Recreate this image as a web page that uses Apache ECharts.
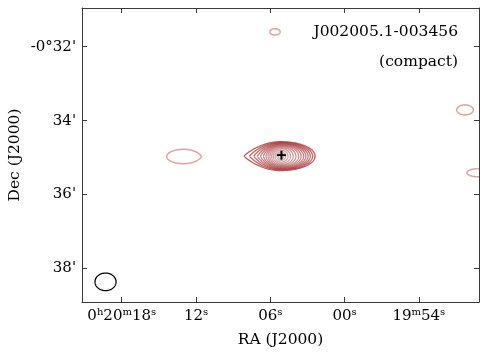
<!DOCTYPE html>
<html><head><meta charset="utf-8">
<script src="https://cdn.jsdelivr.net/npm/echarts@6/dist/echarts.min.js"></script>
<style>html,body{margin:0;padding:0;background:#fff}#c{width:487px;height:354px}</style>
</head><body><div id="c"></div>
<script>
// RA in seconds relative to 0h20m00s ; Dec in arcmin (negative = south)
const raTickValues = [18, 12, 6, 0, -6];
const raTickLabels = ['{n|0}{s|h}{n|20}{s|m}{n|18}{s|s}', '{n|12}{s|s}', '{n|06}{s|s}', '{n|00}{s|s}', '{n|19}{s|m}{n|54}{s|s}'];
const decTickValues = [-32, -34, -36, -38];
const decTickLabels = ["-0°32'", "34'", "36'", "38'"];
const raRange = [-10.86, 21.21];
const decRange = [-38.905, -30.954];

// main source contour levels (outer -> inner)
const mainCenter = [5.13, -34.96];
const mainEastHalf = [2.99, 2.55, 2.20, 1.90, 1.65, 1.42, 1.22, 1.05, 0.90, 0.76, 0.62, 0.48, 0.34, 0.22];
const mainWestHalf = [2.75, 2.55, 2.36, 2.18, 2.00, 1.82, 1.62, 1.42, 1.20, 0.98, 0.76, 0.56, 0.38, 0.22];
const mainDecHalf  = [0.39, 0.375, 0.360, 0.346, 0.332, 0.317, 0.300, 0.282, 0.260, 0.234, 0.202, 0.162, 0.117, 0.072];
const mainPointed  = [1, 1, 0.9, 0.8, 0.7, 0.5, 0.3, 0.1, 0, 0, 0, 0, 0, 0];

// other isolated contours
const otherRa      = [5.62, 12.97, -9.73, -10.78];
const otherDec     = [-31.60, -34.97, -33.71, -35.41];
const otherEast    = [0.42, 1.40, 0.67, 0.89];
const otherWest    = [0.42, 1.40, 0.67, 0.89];
const otherDecHalf = [0.085, 0.195, 0.135, 0.11];
const otherPointW  = [0, 0.5, 0, 0];

// beam
const beamCenter = [19.31, -38.36];
const beamHalf = [0.85, 0.238];

// source position J002005.1-003456
const srcPos = [5.1, -34.933];
const srcName = 'J002005.1-003456';
const srcType = '(compact)';

const FONT = 'DejaVu Serif';

function shapePoints(api, ra, dec, east, west, half, pE, pW) {
  const pts = [];
  const N = 160;
  for (let i = 0; i <= N; i++) {
    const t = i / N * Math.PI * 2;
    const u = Math.cos(t), s = Math.sin(t);
    const eastSide = u >= 0;
    const a = eastSide ? east : west;
    const p = eastSide ? pE : pW;
    const mag = Math.pow(Math.abs(s), 1 + 0.8 * p);
    const dy = half * Math.sign(s) * mag;
    pts.push(api.coord([ra + a * u, dec + dy]));
  }
  return pts;
}

const mainData = mainEastHalf.map((e, i) => [mainCenter[0], mainCenter[1], e, mainWestHalf[i], mainDecHalf[i], mainPointed[i], 0, i]);
const otherData = otherRa.map((r, i) => [r, otherDec[i], otherEast[i], otherWest[i], otherDecHalf[i], 0, otherPointW[i], 0]);

function contourRender(color, width) {
  return function (params, api) {
    const pts = shapePoints(api, api.value(0), api.value(1), api.value(2), api.value(3), api.value(4), api.value(5), api.value(6));
    return { type: 'polyline', shape: { points: pts }, style: { stroke: color, lineWidth: width, fill: null } };
  };
}

const axisColor = '#3a3a3a';
const chart = echarts.init(document.getElementById('c'), null, { renderer: 'canvas' });
chart.setOption({
  animation: false,
  backgroundColor: '#fff',
  textStyle: { fontFamily: FONT },
  grid: { left: 82, right: 8, top: 8, bottom: 52, containLabel: false, outerBoundsMode: 'none' },
  xAxis: [{
    type: 'value', min: raRange[0], max: raRange[1], inverse: true, position: 'bottom',
    axisLine: { show: true, onZero: false, lineStyle: { color: axisColor, width: 1 } },
    axisTick: { show: true, inside: true, length: 5, customValues: raTickValues, lineStyle: { color: axisColor } },
    axisLabel: {
      show: true, customValues: raTickValues, margin: 5, color: '#000', hideOverlap: false,
      formatter: v => raTickLabels[raTickValues.indexOf(v)] || '',
      rich: {
        n: { fontFamily: FONT, fontSize: 15, color: '#000', lineHeight: 18 },
        s: { fontFamily: FONT, fontSize: 10, color: '#000', lineHeight: 10, verticalAlign: 'top' }
      }
    },
    splitLine: { show: false },
    name: 'RA (J2000)', nameLocation: 'middle', nameGap: 30, nameMoveOverlap: false,
    nameTextStyle: { fontFamily: FONT, fontSize: 15.5, color: '#000' }
  }, {
    type: 'value', min: raRange[0], max: raRange[1], inverse: true, position: 'top',
    axisLine: { show: true, onZero: false, lineStyle: { color: axisColor, width: 1 } },
    axisTick: { show: true, inside: true, length: 5, customValues: raTickValues, lineStyle: { color: axisColor } },
    axisLabel: { show: false }, splitLine: { show: false }
  }],
  yAxis: [{
    type: 'value', min: decRange[0], max: decRange[1], position: 'left',
    axisLine: { show: true, onZero: false, lineStyle: { color: axisColor, width: 1 } },
    axisTick: { show: true, inside: true, length: 5, customValues: decTickValues, lineStyle: { color: axisColor } },
    axisLabel: {
      show: true, customValues: decTickValues, margin: 6, color: '#000', fontFamily: FONT, fontSize: 15,
      formatter: v => decTickLabels[decTickValues.indexOf(v)] || ''
    },
    splitLine: { show: false },
    name: 'Dec (J2000)', nameLocation: 'middle', nameGap: 59, nameRotate: 90, nameMoveOverlap: false,
    nameTextStyle: { fontFamily: FONT, fontSize: 15.5, color: '#000' }
  }, {
    type: 'value', min: decRange[0], max: decRange[1], position: 'right',
    axisLine: { show: true, onZero: false, lineStyle: { color: axisColor, width: 1 } },
    axisTick: { show: true, inside: true, length: 5, customValues: decTickValues, lineStyle: { color: axisColor } },
    axisLabel: { show: false }, splitLine: { show: false }
  }],
  series: [{
    type: 'custom', clip: true, xAxisIndex: 0, yAxisIndex: 0,
    data: otherData, renderItem: contourRender('rgba(195,95,95,0.55)', 1.6), silent: true
  }, {
    type: 'custom', clip: true, xAxisIndex: 0, yAxisIndex: 0,
    data: mainData,
    renderItem: function (params, api) {
      const i = api.value(7);
      const f = i / (mainEastHalf.length - 1);
      const col = 'rgba(' + Math.round(175 - 5 * f) + ',' + Math.round(55 + 40 * f) + ',' + Math.round(55 + 40 * f) + ',' + (0.78 - 0.28 * f).toFixed(2) + ')';
      return contourRender(col, 1.35)(params, api);
    }, silent: true
  }, {
    type: 'custom', clip: true, xAxisIndex: 0, yAxisIndex: 0,
    data: [[beamCenter[0], beamCenter[1], beamHalf[0], beamHalf[0], beamHalf[1], 0, 0]],
    renderItem: contourRender('#000', 1.3), silent: true
  }, {
    type: 'custom', clip: true, xAxisIndex: 0, yAxisIndex: 0,
    data: [srcPos],
    renderItem: function (params, api) {
      const c = api.coord([api.value(0), api.value(1)]);
      const h = 4.5;
      return { type: 'group', children: [
        { type: 'line', shape: { x1: c[0] - h, y1: c[1], x2: c[0] + h, y2: c[1] }, style: { stroke: '#000', lineWidth: 2 } },
        { type: 'line', shape: { x1: c[0], y1: c[1] - h, x2: c[0], y2: c[1] + h }, style: { stroke: '#000', lineWidth: 2 } }
      ] };
    }, silent: true
  }],
  graphic: [
    { type: 'text', right: 29, top: 24, style: { text: srcName, font: '15.5px "DejaVu Serif"', fill: '#000', textAlign: 'right' } },
    { type: 'text', right: 29, top: 54, style: { text: srcType, font: '15.5px "DejaVu Serif"', fill: '#000', textAlign: 'right' } }
  ]
});
</script></body></html>
